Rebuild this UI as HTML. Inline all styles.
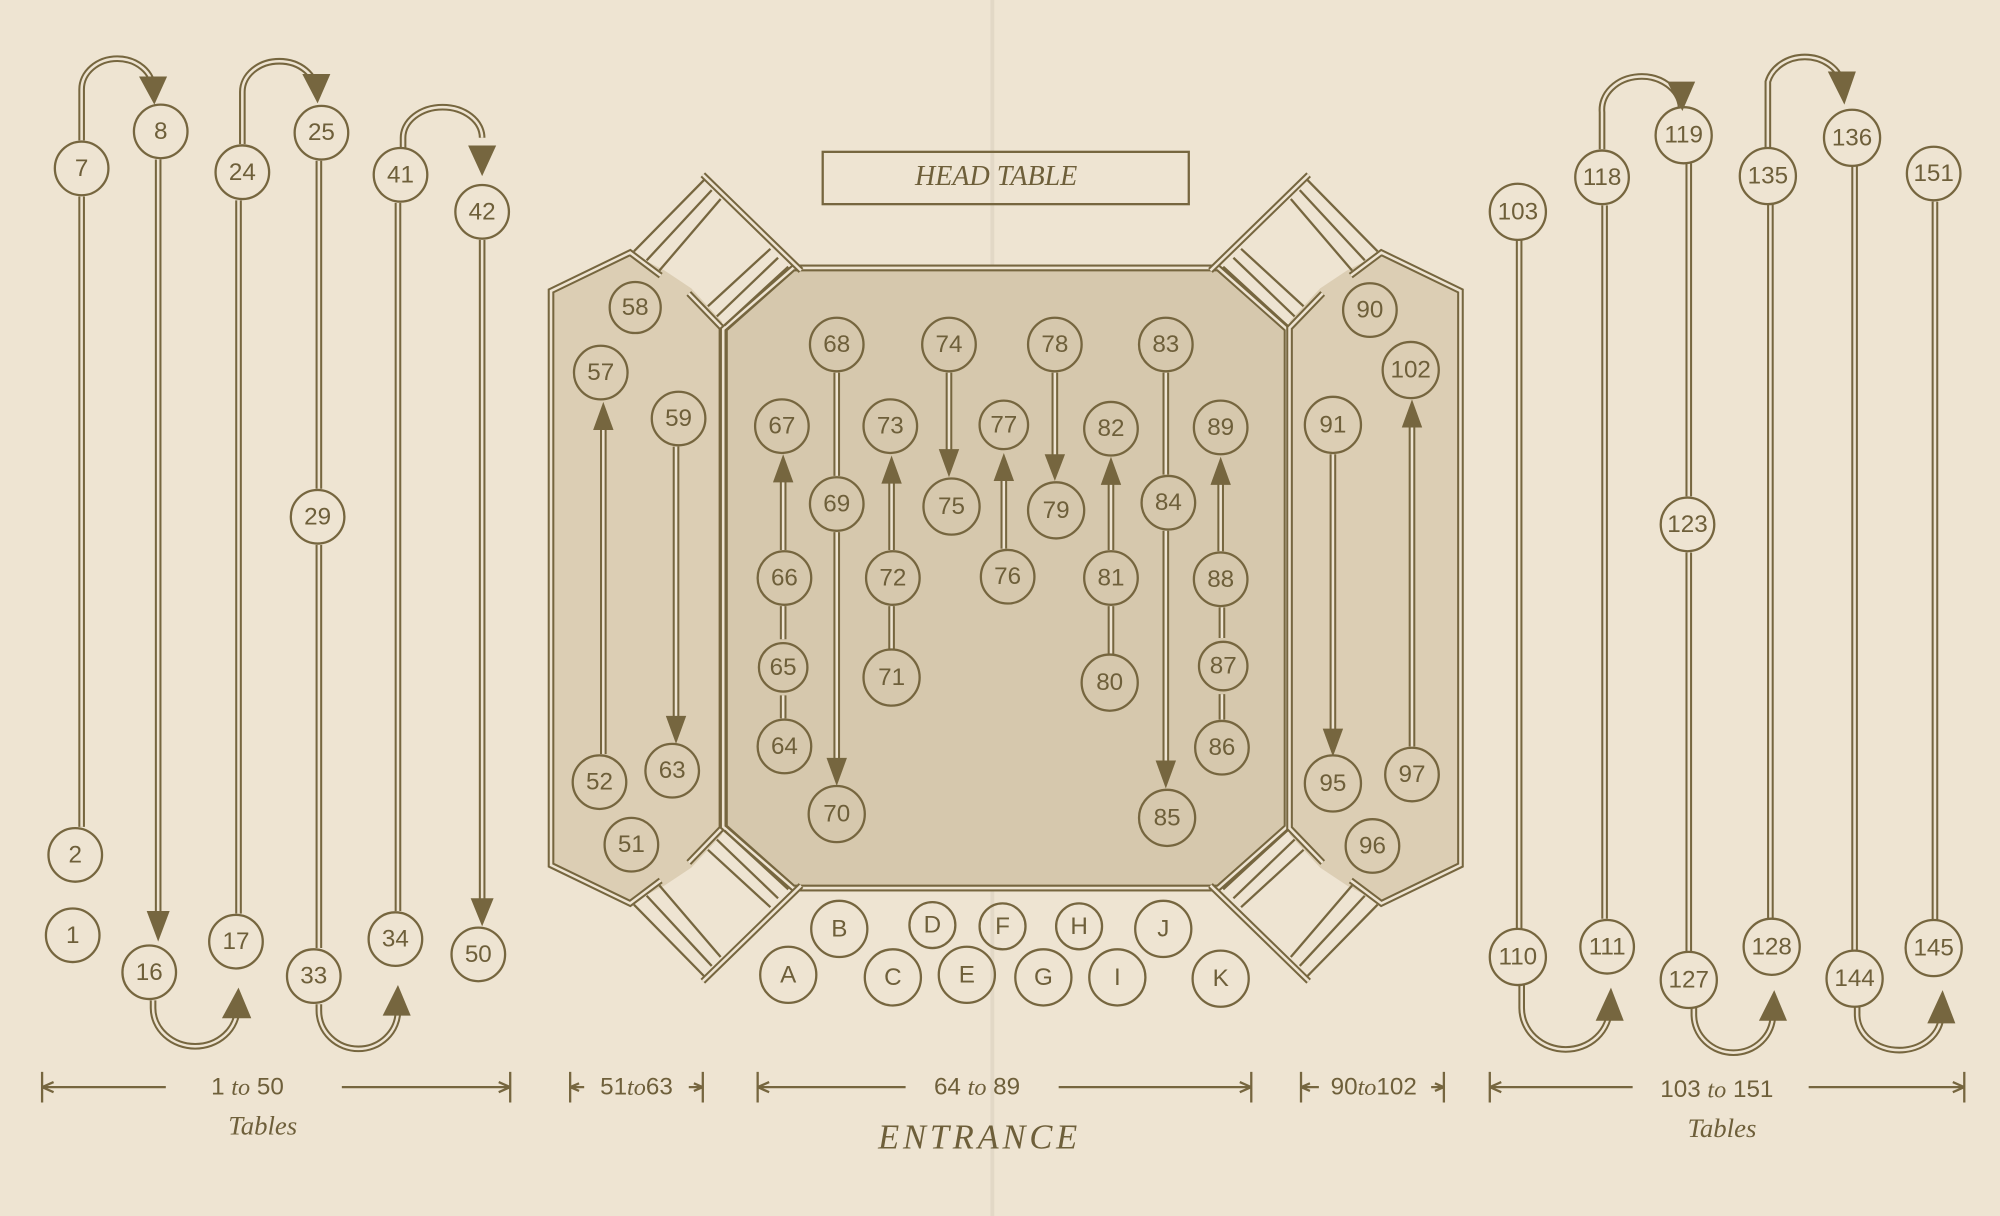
<!DOCTYPE html>
<html><head><meta charset="utf-8"><style>
html,body{margin:0;padding:0;background:#eee4d2;}
svg{display:block}
.c{fill:none;stroke:#76663f;stroke-width:1.8}
.t{font-family:"Liberation Sans",sans-serif;font-size:19px;fill:#6e5f3a;text-anchor:middle;dominant-baseline:central}
.d1{stroke:#76663f;stroke-width:5.2;fill:none}
.d2{stroke:#eee4d2;stroke-width:2;fill:none}
.s{stroke:#76663f;stroke-width:1.8;fill:none}
.a{fill:#76663f}
.it{font-family:"Liberation Serif",serif;font-style:italic;fill:#6e5f3a;text-anchor:middle}
</style></head><body>
<svg width="2000" height="1216" viewBox="0 0 1568 953" preserveAspectRatio="none" xmlns="http://www.w3.org/2000/svg">
<rect width="1568" height="953" fill="#eee4d2"/>
<line x1="778" y1="0" x2="778" y2="953" stroke="#e2d8c6" stroke-width="3"/>
<!-- shaded areas -->
<polygon points="432,228 494,198 521,212 542,226 566,252 566,654 542,680 521,694 494,708 432,678" fill="#dcceb4"/>
<polygon points="1145,228 1083,198 1056,212 1035,226 1011,252 1011,654 1035,680 1056,694 1083,708 1145,678" fill="#dcceb4"/>
<polygon points="622,210 955,210 1010,258 1010,648 955,696 622,696 568,648 568,258" fill="#d6c8ad"/>
<!-- outlines -->
<g id="outl">
<polygon class="d1" points="622,210 955,210 1010,258 1010,648 955,696 622,696 568,648 568,258"/>
<polygon class="d2" points="622,210 955,210 1010,258 1010,648 955,696 622,696 568,648 568,258"/>
<path class="d1" d="M518,216 L494,198 L432,228 L432,678 L494,708 L518,690"/>
<path class="d2" d="M518,216 L494,198 L432,228 L432,678 L494,708 L518,690"/>
<path class="d1" d="M540,230 L566,257 L566,649 L540,676"/>
<path class="d2" d="M540,230 L566,257 L566,649 L540,676"/>
</g>
<use href="#outl" transform="translate(1577,0) scale(-1,1)"/>
<g id="q">
<line class="d1" x1="551" y1="137" x2="628" y2="212"/><line class="d2" x1="551" y1="137" x2="628" y2="212"/>
<line class="s" x1="497" y1="197" x2="552" y2="141"/>
<line class="s" x1="507" y1="204" x2="558" y2="149"/>
<line class="s" x1="517" y1="212" x2="565" y2="156"/>
<line class="s" x1="555" y1="240" x2="604" y2="195"/>
<line class="s" x1="562" y1="248" x2="610" y2="202"/>
<line class="s" x1="568" y1="255" x2="618" y2="209"/>
</g>
<use href="#q" transform="translate(0,906) scale(1,-1)"/>
<use href="#q" transform="translate(1577,0) scale(-1,1)"/>
<use href="#q" transform="translate(1577,906) scale(-1,-1)"/>
<!-- head table -->
<rect x="645" y="119" width="287" height="41" class="c"/>
<text x="781" y="145" class="it" font-size="22">HEAD TABLE</text>
<!-- double lines -->
<g>
<path class="d1" d="M64,154V648 M187,157V716 M250,126V383 M250,427V743 M312,159V714 M656,292V373 M914,292V372 M614,563V545 M614,501V475 M699,509V475 M871,513V475 M958,564V544 M958,500V476 M1191,188V728 M1258,161V720 M1324,128V389 M1324,433V746 M1388,160V720 M1454,130V745 M1517,158V721"/>
<path class="d2" d="M64,154V648 M187,157V716 M250,126V383 M250,427V743 M312,159V714 M656,292V373 M914,292V372 M614,563V545 M614,501V475 M699,509V475 M871,513V475 M958,564V544 M958,500V476 M1191,188V728 M1258,161V720 M1324,128V389 M1324,433V746 M1388,160V720 M1454,130V745 M1517,158V721"/>
<!-- arrow shafts -->
<path class="d1" d="M124,125V718 M378,188V708 M656,417V598 M744,292V356 M827,292V360 M914,416V600 M614,431V376 M699,431V377 M787,430V375 M871,431V378 M957,432V378 M473,591V335 M530,350V565 M1045,356V575 M1107,585V333"/>
<path class="d2" d="M124,125V718 M378,188V708 M656,417V598 M744,292V356 M827,292V360 M914,416V600 M614,431V376 M699,431V377 M787,430V375 M871,431V378 M957,432V378 M473,591V335 M530,350V565 M1045,356V575 M1107,585V333"/>
<!-- curves -->
<path class="d1" d="M64,110V70A28,24 0 0 1 120,70 M190,113V72A29,24 0 0 1 248,72 M316,116V108A31,24 0 0 1 378,108 M1256,117V88A31,26 0 0 1 1318,84 M1386,116V64A30,26 0 0 1 1444,64 M120,784V790A33,30 0 0 0 186,790 M250,787V792A31,30 0 0 0 312,792 M1193,772V790A34,32 0 0 0 1262,790 M1328,790V795A31,30 0 0 0 1390,795 M1456,789V795A33,28 0 0 0 1522,795"/>
<path class="d2" d="M64,110V70A28,24 0 0 1 120,70 M190,113V72A29,24 0 0 1 248,72 M316,116V108A31,24 0 0 1 378,108 M1256,117V88A31,26 0 0 1 1318,84 M1386,116V64A30,26 0 0 1 1444,64 M120,784V790A33,30 0 0 0 186,790 M250,787V792A31,30 0 0 0 312,792 M1193,772V790A34,32 0 0 0 1262,790 M1328,790V795A31,30 0 0 0 1390,795 M1456,789V795A33,28 0 0 0 1522,795"/>
</g>
<!-- arrowheads -->
<g class="a">
<polygon points="109,60 131,60 121,82"/>
<polygon points="237,58 259,58 249,81"/>
<polygon points="367,114 389,114 378,138"/>
<polygon points="1307,64 1329,64 1319,87"/>
<polygon points="1433,56 1455,56 1446,82"/>
<polygon points="174,798 197,798 187,774"/>
<polygon points="300,796 322,796 312,772"/>
<polygon points="1251,800 1273,800 1263,774"/>
<polygon points="1379,800 1401,800 1391,776"/>
<polygon points="1511,802 1533,802 1523,776"/>
<polygon points="115,714 133,714 124,738"/>
<polygon points="369,704 387,704 378,726"/>
<polygon points="648,594 664,594 656,616"/>
<polygon points="736,352 752,352 744,374"/>
<polygon points="819,356 835,356 827,377"/>
<polygon points="906,596 922,596 914,618"/>
<polygon points="606,378 622,378 614,356"/>
<polygon points="691,379 707,379 699,357"/>
<polygon points="779,377 795,377 787,355"/>
<polygon points="863,380 879,380 871,358"/>
<polygon points="949,380 965,380 957,358"/>
<polygon points="465,337 481,337 473,315"/>
<polygon points="522,561 538,561 530,583"/>
<polygon points="1037,571 1053,571 1045,593"/>
<polygon points="1099,335 1115,335 1107,313"/>
</g>
<!-- circles -->
<g id="circles">
<g class="c">
<circle cx="64" cy="132" r="21"/><circle cx="59" cy="670" r="21"/><circle cx="57" cy="733" r="21"/>
<circle cx="126" cy="103" r="21"/><circle cx="117" cy="762" r="21"/><circle cx="185" cy="738" r="21"/>
<circle cx="190" cy="135" r="21"/><circle cx="252" cy="104" r="21"/><circle cx="249" cy="405" r="21"/>
<circle cx="246" cy="765" r="21"/><circle cx="310" cy="736" r="21"/><circle cx="314" cy="137" r="21"/>
<circle cx="378" cy="166" r="21"/><circle cx="375" cy="748" r="21"/>
<circle cx="498" cy="241" r="20"/><circle cx="471" cy="292" r="21"/><circle cx="532" cy="328" r="21"/>
<circle cx="470" cy="613" r="21"/><circle cx="527" cy="604" r="21"/><circle cx="495" cy="662" r="21"/>
<circle cx="656" cy="270" r="21"/><circle cx="744" cy="270" r="21"/><circle cx="827" cy="270" r="21"/><circle cx="914" cy="270" r="21"/>
<circle cx="613" cy="334" r="21"/><circle cx="698" cy="334" r="21"/><circle cx="787" cy="333" r="19"/><circle cx="871" cy="336" r="21"/><circle cx="957" cy="335" r="21"/>
<circle cx="656" cy="395" r="21"/><circle cx="746" cy="397" r="22"/><circle cx="828" cy="400" r="22"/><circle cx="916" cy="394" r="21"/>
<circle cx="615" cy="453" r="21"/><circle cx="700" cy="453" r="21"/><circle cx="790" cy="452" r="21"/><circle cx="871" cy="453" r="21"/><circle cx="957" cy="454" r="21"/>
<circle cx="614" cy="523" r="19"/><circle cx="699" cy="531" r="22"/><circle cx="870" cy="535" r="22"/><circle cx="959" cy="522" r="19"/>
<circle cx="615" cy="585" r="21"/><circle cx="656" cy="638" r="22"/><circle cx="958" cy="586" r="21"/><circle cx="915" cy="641" r="22"/>
<circle cx="1074" cy="243" r="21"/><circle cx="1106" cy="290" r="22"/><circle cx="1045" cy="333" r="22"/>
<circle cx="1045" cy="614" r="22"/><circle cx="1107" cy="607" r="21"/><circle cx="1076" cy="663" r="21"/>
<circle cx="1190" cy="166" r="22"/><circle cx="1256" cy="139" r="21"/><circle cx="1320" cy="106" r="22"/><circle cx="1323" cy="411" r="21"/>
<circle cx="1386" cy="138" r="22"/><circle cx="1452" cy="108" r="22"/><circle cx="1516" cy="136" r="21"/>
<circle cx="1190" cy="750" r="22"/><circle cx="1260" cy="742" r="21"/><circle cx="1324" cy="768" r="22"/><circle cx="1389" cy="742" r="22"/><circle cx="1454" cy="767" r="22"/><circle cx="1516" cy="743" r="22"/>
<circle cx="618" cy="764" r="22"/><circle cx="658" cy="728" r="22"/><circle cx="700" cy="766" r="22"/><circle cx="731" cy="725" r="18"/>
<circle cx="758" cy="764" r="22"/><circle cx="786" cy="726" r="18"/><circle cx="818" cy="766" r="22"/><circle cx="846" cy="726" r="18"/>
<circle cx="876" cy="766" r="22"/><circle cx="912" cy="728" r="22"/><circle cx="957" cy="767" r="22"/>
</g>
<g class="t">
<text x="64" y="132">7</text><text x="59" y="670">2</text><text x="57" y="733">1</text>
<text x="126" y="103">8</text><text x="117" y="762">16</text><text x="185" y="738">17</text>
<text x="190" y="135">24</text><text x="252" y="104">25</text><text x="249" y="405">29</text>
<text x="246" y="765">33</text><text x="310" y="736">34</text><text x="314" y="137">41</text>
<text x="378" y="166">42</text><text x="375" y="748">50</text>
<text x="498" y="241">58</text><text x="471" y="292">57</text><text x="532" y="328">59</text>
<text x="470" y="613">52</text><text x="527" y="604">63</text><text x="495" y="662">51</text>
<text x="656" y="270">68</text><text x="744" y="270">74</text><text x="827" y="270">78</text><text x="914" y="270">83</text>
<text x="613" y="334">67</text><text x="698" y="334">73</text><text x="787" y="333">77</text><text x="871" y="336">82</text><text x="957" y="335">89</text>
<text x="656" y="395">69</text><text x="746" y="397">75</text><text x="828" y="400">79</text><text x="916" y="394">84</text>
<text x="615" y="453">66</text><text x="700" y="453">72</text><text x="790" y="452">76</text><text x="871" y="453">81</text><text x="957" y="454">88</text>
<text x="614" y="523">65</text><text x="699" y="531">71</text><text x="870" y="535">80</text><text x="959" y="522">87</text>
<text x="615" y="585">64</text><text x="656" y="638">70</text><text x="958" y="586">86</text><text x="915" y="641">85</text>
<text x="1074" y="243">90</text><text x="1106" y="290">102</text><text x="1045" y="333">91</text>
<text x="1045" y="614">95</text><text x="1107" y="607">97</text><text x="1076" y="663">96</text>
<text x="1190" y="166">103</text><text x="1256" y="139">118</text><text x="1320" y="106">119</text><text x="1323" y="411">123</text>
<text x="1386" y="138">135</text><text x="1452" y="108">136</text><text x="1516" y="136">151</text>
<text x="1190" y="750">110</text><text x="1260" y="742">111</text><text x="1324" y="768">127</text><text x="1389" y="742">128</text><text x="1454" y="767">144</text><text x="1516" y="743">145</text>
<text x="618" y="764">A</text><text x="658" y="728">B</text><text x="700" y="766">C</text><text x="731" y="725">D</text>
<text x="758" y="764">E</text><text x="786" y="726">F</text><text x="818" y="766">G</text><text x="846" y="726">H</text>
<text x="876" y="766">I</text><text x="912" y="728">J</text><text x="957" y="767">K</text>
</g>
</g>
<!-- dimension lines -->
<g class="s" stroke-width="1.4">
<path d="M33,840V864 M400,840V864 M33,852H130 M268,852H400 M33,852l9,-4 M33,852l9,4 M400,852l-9,-4 M400,852l-9,4"/>
<path d="M447,840V864 M551,840V864 M447,852H458 M540,852H551 M447,852l7,-3 M447,852l7,3 M551,852l-7,-3 M551,852l-7,3"/>
<path d="M594,840V864 M981,840V864 M594,852H710 M830,852H981 M594,852l9,-4 M594,852l9,4 M981,852l-9,-4 M981,852l-9,4"/>
<path d="M1020,840V864 M1132,840V864 M1020,852H1034 M1122,852H1132 M1020,852l7,-3 M1020,852l7,3 M1132,852l-7,-3 M1132,852l-7,3"/>
<path d="M1168,840V864 M1540,840V864 M1168,852H1280 M1418,852H1540 M1168,852l9,-4 M1168,852l9,4 M1540,852l-9,-4 M1540,852l-9,4"/>
</g>
<g class="t" style="font-size:19px">
<text x="194" y="852">1 <tspan font-family="Liberation Serif" font-style="italic">to</tspan> 50</text>
<text x="499" y="852">51<tspan font-family="Liberation Serif" font-style="italic">to</tspan>63</text>
<text x="766" y="852">64 <tspan font-family="Liberation Serif" font-style="italic">to</tspan> 89</text>
<text x="1077" y="852">90<tspan font-family="Liberation Serif" font-style="italic">to</tspan>102</text>
<text x="1346" y="854">103 <tspan font-family="Liberation Serif" font-style="italic">to</tspan> 151</text>
</g>
<text x="206" y="889" class="it" font-size="21">Tables</text>
<text x="1350" y="891" class="it" font-size="21">Tables</text>
<text x="768" y="900" class="it" font-size="27" letter-spacing="3">ENTRANCE</text>
</svg>
</body></html>
